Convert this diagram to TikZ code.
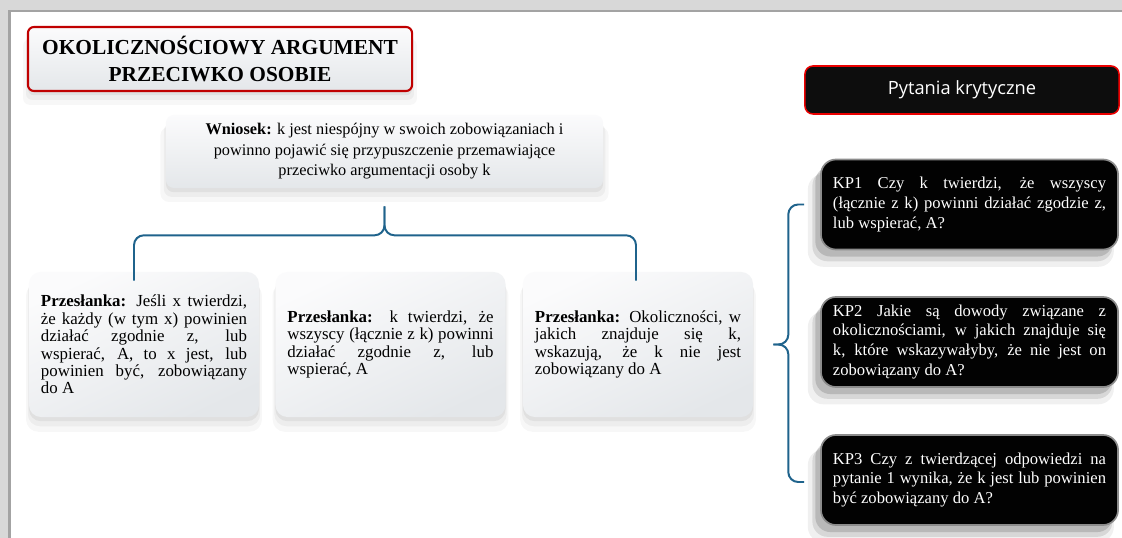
\documentclass[tikz,border=0pt]{standalone}
\usepackage{fontspec}
\setmainfont{Liberation Serif}
\newfontfamily\qsans{Open Sans}
\usetikzlibrary{positioning,calc,shadows}
\definecolor{framegray}{RGB}{216,216,216}
\definecolor{framedark}{RGB}{163,163,163}
\definecolor{titlered}{RGB}{192,0,0}
\definecolor{qred}{RGB}{235,0,0}
\definecolor{bracecol}{RGB}{31,99,140}
\definecolor{boxtop}{RGB}{251,251,252}
\definecolor{boxbot}{RGB}{228,231,234}
\definecolor{kpblack}{RGB}{2,2,2}
\tikzset{
  softshadow/.style={
      general shadow={fill=black, opacity=0.05, shadow yshift=-3pt},
      general shadow={fill=black, opacity=0.04, shadow yshift=-6pt, shadow scale=1.01},
      general shadow={fill=black, opacity=0.03, shadow yshift=-9pt, shadow scale=1.025}},
  darkshadow/.style={
      general shadow={fill=black, opacity=0.14, shadow xshift=-4pt, shadow yshift=-5pt},
      general shadow={fill=black, opacity=0.10, shadow xshift=-5pt, shadow yshift=-8pt, shadow scale=1.01},
      general shadow={fill=black, opacity=0.06, shadow xshift=-6pt, shadow yshift=-11pt, shadow scale=1.03}},
  titlebox/.style={draw=titlered, line width=1.5pt, rounded corners=0.15cm,
      top color=boxtop, bottom color=boxbot, softshadow, align=center,
      minimum width=9.6cm, minimum height=1.6cm,
      font=\fontsize{15.2}{18.5}\selectfont\bfseries},
  concbox/.style={rounded corners=0.2cm, top color=boxtop, bottom color=boxbot,
      softshadow, align=center, minimum width=10.925cm, minimum height=1.825cm,
      font=\fontsize{11.6}{14.6}\selectfont},
  prembox/.style={rounded corners=0.3cm, top color=boxtop, bottom color=boxbot,
      shading angle=25, softshadow, text width=5.15cm, inner xsep=0.3cm,
      align=justify, minimum height=3.625cm,
      font=\fontsize{12}{12.4}\selectfont},
  qhead/.style={draw=qred, line width=1.1pt, fill=black!95, rounded corners=0.2cm,
      minimum width=7.85cm, minimum height=1.2cm, text=white,
      font=\qsans\fontsize{13}{15}\selectfont},
  kpbox/.style={draw=black!45, line width=1.2pt, fill=kpblack, rounded corners=0.375cm,
      darkshadow, text=white, text width=6.825cm, inner xsep=0.3cm,
      align=justify, minimum height=2.25cm,
      font=\fontsize{11.8}{14.2}\selectfont},
  brace/.style={draw=bracecol, line width=1.4pt, rounded corners=7}
}

\begin{document}
\begin{tikzpicture}[x=0.025cm, y=-0.025cm]
\useasboundingbox (0,0) rectangle (1122,538);
\fill[white] (0,0) rectangle (1122,538);
% slide frame
\fill[framegray] (0,0) rectangle (1122,12);
\fill[framegray] (0,0) rectangle (10,538);
\fill[framedark] (8,10) rectangle (1122,12.5);
\fill[framedark] (8,10) rectangle (10.5,538);

% left part: argument
\node[titlebox] (title) at (220,59) {OKOLICZNOŚCIOWY ARGUMENT\\PRZECIWKO OSOBIE};
\node[concbox] (wniosek) at (384.5,151.5) {\textbf{Wniosek:} k jest niespójny w swoich zobowiązaniach i\\
  powinno pojawić się przypuszczenie przemawiające\\przeciwko argumentacji osoby k};

\node[prembox] (prem1) at (144,344.5) {\textbf{Przesłanka:} Jeśli x twierdzi,\linebreak
  że każdy (w tym x) powinien\linebreak działać zgodnie z, lub\linebreak
  wspierać, A, to x jest, lub\linebreak powinien być, zobowiązany\linebreak do A};
\node[prembox] (prem2) at (390.5,344.5) {\textbf{Przesłanka:} k twierdzi, że\linebreak
  wszyscy (łącznie z k) powinni\linebreak działać zgodnie z, lub\linebreak wspierać, A};
\node[prembox] (prem3) at (638,344.5) {\textbf{Przesłanka:} Okoliczności, w\linebreak
  jakich znajduje się k,\linebreak wskazują, że k nie jest\linebreak zobowiązany do A};

% brace under the conclusion
\coordinate (tip) at ($(wniosek.south)+(0,18)$);
\coordinate (mid) at ($(tip)+(0,29)$);
\coordinate (bL) at ($(prem1.north)+(-10,9)$);
\coordinate (bR) at ($(prem3.north)+(-2,9)$);
\draw[brace] (bL) |- (mid) -- (tip);
\draw[brace] (bR) |- (mid) -- (tip);

% right part: critical questions
\node[qhead] (pytania) at (962,90) {Pytania krytyczne};
\node[kpbox] (kp1) at (969.5,204.5) {KP1 Czy k twierdzi, że wszyscy\linebreak
  (łącznie z k) powinni działać zgodzie z,\linebreak lub wspierać, A?};
\node[kpbox] (kp2) at (969.5,342) {KP2 Jakie są dowody związane z\linebreak
  okolicznościami, w jakich znajduje się\linebreak k, które wskazywałyby, że nie jest on\linebreak
  zobowiązany do A?};
\node[kpbox] (kp3) at (969.5,480) {KP3 Czy z twierdzącej odpowiedzi na\linebreak
  pytanie 1 wynika, że k jest lub powinien\linebreak być zobowiązany do A?};

% brace between premises and questions
\coordinate (rtip) at ($(prem3.east)+(20,0)$);
\coordinate (rmid) at ($(rtip)+(15,0)$);
\coordinate (h1) at ($(kp1.west)+(-16,0)$);
\coordinate (h3) at ($(kp3.west)+(-16,2)$);
\draw[brace] (h1) -| (rmid) -- (rtip);
\draw[brace] (h3) -| (rmid) -- (rtip);
\end{tikzpicture}
\end{document}
